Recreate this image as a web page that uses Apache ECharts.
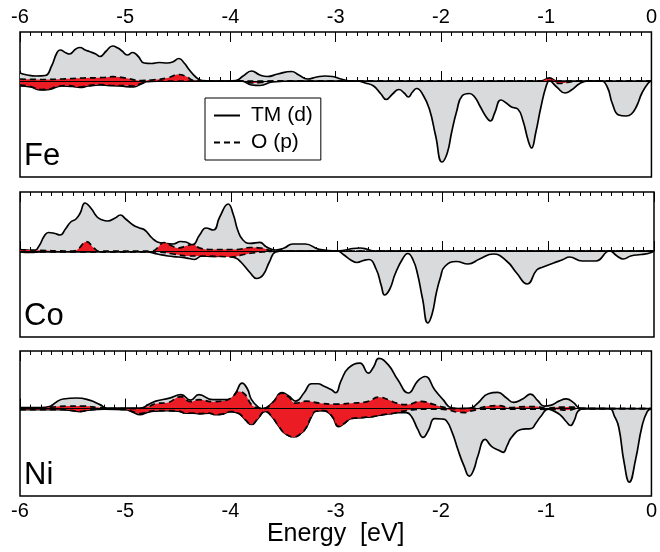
<!DOCTYPE html>
<html>
<head>
<meta charset="utf-8">
<script src="https://cdn.jsdelivr.net/npm/echarts@6/dist/echarts.min.js"></script>
<style>
html,body{margin:0;padding:0;background:#fff;}
#main{width:660px;height:552px;}
</style>
</head>
<body>
<div id="main"></div>
<script>
// energy in eV, DOS in arbitrary units ([E, dos] pairs), up = positive, down = negative
var panelNames = ['Fe', 'Co', 'Ni'];
var xTicks = [-6, -5, -4, -3, -2, -1, 0];
var yRanges = [[-9.6, 4.9], [-8.6, 5.9], [-8.8, 5.8]];

var feTmUp = [[-6,0.8],[-5.93,0.6],[-5.85,0.5],[-5.76,0.55],[-5.7,1.5],[-5.65,2.8],[-5.62,3.1],[-5.56,2.8],[-5.53,2.7],[-5.47,3.2],[-5.43,3.35],[-5.38,3.1],[-5.34,2.95],[-5.28,2.7],[-5.24,2.45],[-5.18,3.0],[-5.12,3.5],[-5.07,3.3],[-5.03,3.0],[-4.98,2.6],[-4.93,2.85],[-4.88,2.5],[-4.82,1.8],[-4.75,1.75],[-4.68,1.85],[-4.6,1.8],[-4.55,1.9],[-4.49,2.25],[-4.44,1.8],[-4.39,1.1],[-4.33,0.4],[-4.27,0.05],[-4.1,0],[-3.95,0.05],[-3.88,0.5],[-3.8,1.0],[-3.72,0.6],[-3.65,0.45],[-3.55,0.7],[-3.42,0.95],[-3.35,0.6],[-3.27,0.2],[-3.18,0.4],[-3.1,0.5],[-3.03,0.45],[-2.95,0.2],[-2.85,0],[-1.05,0],[-0.97,0.3],[-0.9,0],[0,0]];
var feTmDn = [[-6,-0.5],[-5.9,-0.6],[-5.8,-0.9],[-5.72,-0.85],[-5.65,-0.6],[-5.6,-0.5],[-5.5,-0.55],[-5.43,-0.65],[-5.35,-0.5],[-5.24,-0.4],[-5.15,-0.45],[-5.05,-0.5],[-4.92,-0.6],[-4.85,-0.3],[-4.78,-0.05],[-4.6,0],[-3.9,0],[-3.8,-0.4],[-3.72,-0.45],[-3.6,-0.1],[-3.4,0],[-2.8,0],[-2.72,-0.2],[-2.64,-0.5],[-2.57,-1.3],[-2.52,-1.85],[-2.46,-1.3],[-2.4,-0.85],[-2.35,-1.2],[-2.31,-1.6],[-2.27,-1.1],[-2.23,-0.75],[-2.17,-1.4],[-2.11,-2.8],[-2.05,-5.5],[-1.99,-8.1],[-1.94,-7.2],[-1.9,-5.2],[-1.85,-3.0],[-1.8,-1.5],[-1.73,-1.25],[-1.68,-1.6],[-1.63,-2.5],[-1.57,-3.6],[-1.53,-4.0],[-1.49,-3.2],[-1.43,-1.9],[-1.38,-2.2],[-1.33,-2.6],[-1.27,-2.8],[-1.22,-4.0],[-1.17,-6.0],[-1.14,-6.7],[-1.1,-5.2],[-1.05,-2.6],[-1.0,-0.5],[-0.97,0],[-0.9,-0.6],[-0.82,-1.2],[-0.76,-0.9],[-0.68,-0.25],[-0.6,0],[-0.48,0],[-0.42,-0.6],[-0.37,-2.3],[-0.31,-3.4],[-0.24,-3.5],[-0.19,-3.3],[-0.14,-2.5],[-0.09,-1.2],[-0.03,-0.2],[0,0]];
var feOUp = [[-6,0.2],[-5.8,0.15],[-5.6,0.2],[-5.4,0.3],[-5.2,0.35],[-5.12,0.43],[-5.0,0.3],[-4.85,0.05],[-4.75,0.1],[-4.6,0.3],[-4.49,0.65],[-4.42,0.45],[-4.35,0.05],[-4.2,0],[-1.05,0],[-0.97,0.3],[-0.9,0],[0,0]];
var feODn = [[-6,-0.4],[-5.9,-0.55],[-5.8,-0.85],[-5.72,-0.8],[-5.65,-0.55],[-5.55,-0.45],[-5.43,-0.6],[-5.35,-0.45],[-5.24,-0.35],[-5.12,-0.45],[-5.0,-0.45],[-4.92,-0.5],[-4.85,-0.25],[-4.78,-0.05],[-4.6,0],[-3.9,0],[-3.8,-0.2],[-3.7,-0.15],[-3.6,0],[-0.95,0],[-0.88,-0.25],[-0.8,-0.15],[-0.7,0],[0,0]];

var coTmUp = [[-6,0.1],[-5.93,0.1],[-5.87,0],[-5.82,0.5],[-5.77,1.5],[-5.73,1.85],[-5.67,1.75],[-5.62,1.6],[-5.57,2.2],[-5.52,2.9],[-5.47,3.2],[-5.43,3.8],[-5.385,4.8],[-5.33,4.3],[-5.27,3.4],[-5.22,3.1],[-5.17,3.0],[-5.1,3.3],[-5.05,3.6],[-5.0,3.2],[-4.93,2.6],[-4.87,2.3],[-4.82,2.1],[-4.75,1.3],[-4.7,0.9],[-4.62,0.75],[-4.55,0.7],[-4.48,0.95],[-4.43,0.9],[-4.37,0.6],[-4.3,1.6],[-4.24,2.3],[-4.17,2.1],[-4.11,3.4],[-4.03,4.7],[-3.98,3.6],[-3.94,2.1],[-3.89,1.1],[-3.82,0.77],[-3.73,0.87],[-3.67,0.43],[-3.58,0.1],[-3.5,0.3],[-3.42,0.7],[-3.3,0.7],[-3.17,0.17],[-3.0,0],[-2.92,0.1],[-2.85,0.25],[-2.78,0.3],[-2.72,0.2],[-2.66,0],[0,0]];
var coTmDn = [[-6,-0.1],[-5.9,-0.15],[-5.8,-0.1],[-4.8,-0.1],[-4.7,-0.3],[-4.6,-0.5],[-4.5,-0.6],[-4.4,-0.75],[-4.35,-0.85],[-4.28,-0.5],[-4.17,-0.55],[-4.05,-0.5],[-3.96,-0.7],[-3.91,-1.1],[-3.82,-2.2],[-3.76,-2.75],[-3.7,-2.4],[-3.64,-1.1],[-3.58,-0.1],[-3.5,0],[-3.0,0],[-2.94,-0.35],[-2.87,-0.9],[-2.81,-1.15],[-2.75,-0.95],[-2.7,-0.85],[-2.63,-1.8],[-2.58,-3.5],[-2.55,-4.4],[-2.5,-3.8],[-2.45,-2.3],[-2.38,-0.8],[-2.33,-0.25],[-2.28,-0.9],[-2.24,-2.2],[-2.19,-4.8],[-2.14,-7.2],[-2.1,-6.3],[-2.06,-4.2],[-2.02,-2.6],[-1.98,-1.55],[-1.87,-1.05],[-1.76,-1.3],[-1.65,-0.8],[-1.52,-0.3],[-1.39,-1.05],[-1.3,-2.2],[-1.2,-3.3],[-1.11,-1.9],[-1.05,-1.6],[-0.95,-1.2],[-0.86,-0.85],[-0.8,-0.6],[-0.68,-1.0],[-0.55,-1.0],[-0.42,0],[-0.35,-0.5],[-0.29,-0.8],[-0.22,-0.5],[-0.12,-0.35],[-0.04,-0.2],[0,0]];
var coOUp = [[-6,0.15],[-5.9,0.1],[-5.5,0],[-5.45,0.2],[-5.37,0.93],[-5.3,0.3],[-5.25,0],[-4.75,0],[-4.7,0.3],[-4.64,0.85],[-4.58,0.6],[-4.5,0.3],[-4.43,0.5],[-4.37,0.65],[-4.3,0.3],[-4.2,0.15],[-3.95,0.15],[-3.82,0.35],[-3.72,0.3],[-3.6,0],[0,0]];
var coODn = [[-6,-0.1],[-5.5,-0.1],[-4.7,-0.1],[-4.55,-0.3],[-4.4,-0.5],[-4.3,-0.5],[-4.1,-0.55],[-4.0,-0.6],[-3.9,-0.4],[-3.8,-0.2],[-3.7,-0.1],[-3.5,0],[0,0]];

var niTmUp = [[-6,0.1],[-5.8,0.1],[-5.72,0.2],[-5.65,0.7],[-5.59,0.97],[-5.46,1.07],[-5.34,0.85],[-5.24,0.4],[-5.17,0.05],[-4.85,0.05],[-4.78,0.4],[-4.71,0.75],[-4.58,1.05],[-4.47,1.4],[-4.38,0.85],[-4.3,1.4],[-4.17,0.9],[-4.01,0.9],[-3.95,1.6],[-3.89,2.57],[-3.84,2.0],[-3.8,0.9],[-3.73,0.1],[-3.7,0],[-3.6,0.6],[-3.51,1.6],[-3.45,1.3],[-3.38,0.75],[-3.3,1.6],[-3.23,2.5],[-3.17,2.5],[-3.11,2.25],[-3.04,1.9],[-3.0,1.6],[-2.95,2.8],[-2.88,4.07],[-2.77,4.57],[-2.69,3.57],[-2.64,4.2],[-2.59,5.05],[-2.5,4.4],[-2.41,2.9],[-2.31,1.57],[-2.22,2.8],[-2.15,3.23],[-2.06,1.9],[-1.98,0.9],[-1.9,0.07],[-1.82,0],[-1.72,0.05],[-1.65,0.55],[-1.55,1.5],[-1.46,1.63],[-1.38,1.1],[-1.31,0.63],[-1.22,1.0],[-1.15,1.45],[-1.08,0.8],[-1.02,0.25],[-0.95,0.35],[-0.88,0.75],[-0.81,0.97],[-0.74,0.6],[-0.68,0.05],[-0.6,0],[0,0]];
var niTmDn = [[-6,-0.1],[-5.6,-0.1],[-5.5,-0.2],[-5.43,-0.3],[-5.35,-0.15],[-5.2,-0.05],[-5.0,-0.1],[-4.93,-0.35],[-4.86,-0.6],[-4.78,-0.35],[-4.7,-0.25],[-4.6,-0.2],[-4.5,-0.25],[-4.42,-0.45],[-4.35,-0.45],[-4.3,-0.5],[-4.2,-0.45],[-4.15,-0.6],[-4.08,-0.55],[-4.0,-0.3],[-3.92,-0.5],[-3.86,-1.1],[-3.8,-1.6],[-3.74,-1.0],[-3.67,-0.27],[-3.6,-0.9],[-3.54,-1.8],[-3.47,-2.6],[-3.4,-2.85],[-3.33,-2.5],[-3.28,-1.9],[-3.23,-0.8],[-3.19,-0.27],[-3.12,-0.2],[-3.04,-0.7],[-2.97,-1.8],[-2.92,-1.5],[-2.85,-1.0],[-2.75,-0.9],[-2.65,-0.8],[-2.55,-0.6],[-2.47,-0.5],[-2.4,-0.4],[-2.33,-0.4],[-2.28,-0.8],[-2.22,-2.1],[-2.17,-2.9],[-2.12,-2.2],[-2.06,-1.0],[-1.99,-1.05],[-1.95,-1.2],[-1.89,-2.5],[-1.84,-4.1],[-1.78,-5.8],[-1.73,-6.8],[-1.69,-6.2],[-1.65,-4.8],[-1.58,-3.1],[-1.52,-3.8],[-1.45,-4.2],[-1.41,-4.4],[-1.37,-3.7],[-1.33,-2.9],[-1.24,-2.1],[-1.14,-2.0],[-1.1,-1.5],[-1.05,-0.77],[-0.98,-0.05],[-0.92,-0.3],[-0.87,-0.6],[-0.81,-1.3],[-0.77,-1.7],[-0.73,-1.1],[-0.7,-0.3],[-0.65,0],[-0.4,0],[-0.35,-0.8],[-0.31,-1.9],[-0.26,-5.4],[-0.21,-7.4],[-0.15,-5.1],[-0.09,-1.8],[-0.04,-0.3],[0,0]];
var niOUp = [[-6,0.05],[-5.8,0.05],[-5.7,0.15],[-5.55,0.25],[-5.4,0.25],[-5.25,0.1],[-5.1,0],[-4.9,0],[-4.78,0.2],[-4.71,0.5],[-4.6,0.6],[-4.47,1.2],[-4.38,0.7],[-4.3,0.9],[-4.17,0.7],[-4.05,0.8],[-3.98,1.2],[-3.92,1.73],[-3.86,1.4],[-3.8,0.4],[-3.73,0.05],[-3.68,0],[-3.6,0.6],[-3.51,1.55],[-3.45,1.2],[-3.38,0.55],[-3.28,0.75],[-3.15,0.55],[-3.0,0.45],[-2.85,0.55],[-2.7,0.7],[-2.59,1.15],[-2.5,0.9],[-2.42,0.55],[-2.33,0.4],[-2.19,0.73],[-2.08,0.45],[-1.98,0.15],[-1.9,0],[-1.65,0.05],[-1.55,0.25],[-1.45,0.3],[-1.35,0.1],[-1.2,0.2],[-1.1,0.2],[-1.0,0.05],[-0.85,0.15],[-0.75,0.15],[-0.68,0],[0,0]];
var niODn = [[-6,-0.1],[-5.6,-0.1],[-5.5,-0.2],[-5.43,-0.28],[-5.35,-0.15],[-5.2,-0.05],[-5.0,-0.1],[-4.93,-0.3],[-4.86,-0.5],[-4.78,-0.3],[-4.7,-0.2],[-4.6,-0.2],[-4.5,-0.25],[-4.42,-0.45],[-4.35,-0.45],[-4.3,-0.5],[-4.2,-0.45],[-4.15,-0.6],[-4.08,-0.55],[-4.0,-0.3],[-3.92,-0.5],[-3.86,-1.1],[-3.8,-1.6],[-3.74,-1.0],[-3.67,-0.27],[-3.6,-0.9],[-3.54,-1.8],[-3.47,-2.6],[-3.4,-2.85],[-3.33,-2.5],[-3.28,-1.9],[-3.23,-0.8],[-3.19,-0.27],[-3.12,-0.2],[-3.04,-0.7],[-2.97,-1.8],[-2.92,-1.5],[-2.85,-1.0],[-2.75,-0.9],[-2.65,-0.8],[-2.55,-0.6],[-2.47,-0.5],[-2.4,-0.35],[-2.33,-0.2],[-2.25,-0.1],[-2.1,-0.05],[-1.95,-0.1],[-1.85,-0.35],[-1.77,-0.4],[-1.7,-0.2],[-1.6,-0.05],[-1.2,-0.05],[-0.9,-0.1],[-0.8,-0.15],[-0.7,0],[0,0]];

var tmSets = [[feTmUp, feTmDn], [coTmUp, coTmDn], [niTmUp, niTmDn]];
var oSets = [[feOUp, feODn], [coOUp, coODn], [niOUp, niODn]];

var FONT = 'Liberation Sans, Arial, sans-serif';
var GRAY = '#d9dadb';
var RED = '#ec1c24';
var gridTops = [32, 192, 351];

var grids = [], xAxes = [], yAxes = [], series = [], titles = [];

function mkSeries(name, data, g, fill, dashed, z) {
	return {
		name: name,
		type: 'line',
		xAxisIndex: 2 * g,
		yAxisIndex: g,
		data: data,
		smooth: 0.5,
		symbol: 'none',
		showSymbol: false,
		silent: true,
		z: z,
		lineStyle: {color: '#000', width: 1.7, type: dashed ? [6, 4] : 'solid'},
		itemStyle: {color: '#000'},
		areaStyle: {color: fill, opacity: 1},
		animation: false
	};
}

for (var g = 0; g < 3; g++) {
	grids.push({left: 20, right: 6, top: gridTops[g], height: 145, show: true, borderColor: '#000', borderWidth: 1.5, backgroundColor: 'transparent'});
	['bottom', 'top'].forEach(function (pos) {
		var showLab = (pos === 'top' && g === 0) || (pos === 'bottom' && g === 2);
		xAxes.push({
			type: 'value', gridIndex: g, position: pos, min: xTicks[0], max: xTicks[xTicks.length - 1], interval: 1,
			axisLine: {show: false},
			axisTick: {show: true, inside: true, length: 10, lineStyle: {color: '#000', width: 1}},
			minorTick: {show: true, splitNumber: 10, length: 4, lineStyle: {color: '#000', width: 1}},
			splitLine: {show: false},
			axisLabel: {show: showLab, margin: 5, color: '#000', fontSize: 20, fontFamily: FONT},
			name: (pos === 'bottom' && g === 2) ? 'Energy  [eV]' : '',
			nameLocation: 'middle', nameGap: 25,
			nameTextStyle: {color: '#000', fontSize: 25, fontFamily: FONT}
		});
	});
	yAxes.push({type: 'value', gridIndex: g, min: yRanges[g][0], max: yRanges[g][1],
		axisLine: {show: false}, axisTick: {show: false}, axisLabel: {show: false}, splitLine: {show: false}});

	series.push(mkSeries('TM (d)', tmSets[g][0], g, GRAY, false, 2));
	series.push(mkSeries('TM (d)', tmSets[g][1], g, GRAY, false, 2));
	var oUp = mkSeries('O (p)', oSets[g][0], g, RED, true, 3);
	oUp.markLine = {silent: true, symbol: 'none', label: {show: false}, animation: false,
		lineStyle: {color: '#000', width: 1, type: 'solid'}, data: [{yAxis: 0}]};
	series.push(oUp);
	series.push(mkSeries('O (p)', oSets[g][1], g, RED, true, 3));

	titles.push({text: panelNames[g], left: 24, top: gridTops[g] + 109, padding: 0,
		textStyle: {color: '#000', fontSize: 31, fontWeight: 'normal', fontFamily: FONT}});
}

var option = {
	backgroundColor: '#fff',
	animation: false,
	title: titles,
	legend: {
		data: ['TM (d)', 'O (p)'],
		orient: 'vertical',
		left: 205, top: 98,
		padding: [7, 8, 7, 8],
		itemGap: 6,
		itemWidth: 26, itemHeight: 14,
		backgroundColor: '#fff',
		borderColor: '#000', borderWidth: 1, borderRadius: 0,
		selectedMode: false,
		itemStyle: {opacity: 0},
		textStyle: {color: '#000', fontSize: 21, fontFamily: FONT, padding: [0, 0, 0, 6]}
	},
	grid: grids,
	xAxis: xAxes,
	yAxis: yAxes,
	series: series
};

var myChart = echarts.init(document.getElementById('main'));
myChart.setOption(option);
</script>
</body>
</html>
